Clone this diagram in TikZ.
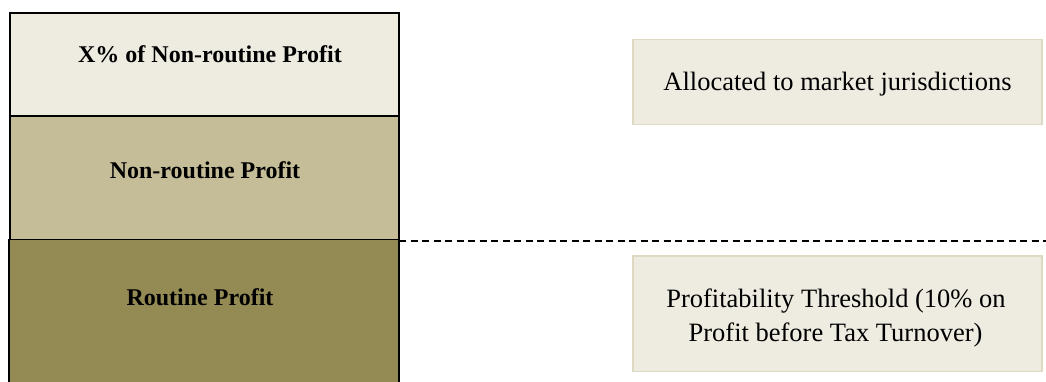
\documentclass[tikz,border=0pt]{standalone}
\usepackage{fontspec}
\setmainfont{Liberation Serif}
\definecolor{paletan}{HTML}{EEECE1}
\definecolor{midtan}{HTML}{C4BD97}
\definecolor{darktan}{HTML}{948A54}
\definecolor{tanedge}{HTML}{DDD9C3}
\begin{document}
\begin{tikzpicture}[x=1pt,y=-1pt,
  stackbox/.style={draw=black,line width=1.3pt},
  sidebox/.style={fill=paletan,draw=tanedge,line width=1.3pt},
  boldlabel/.style={font=\fontsize{24}{28}\selectfont\bfseries,inner sep=0pt,anchor=base},
  plainlabel/.style={font=\fontsize{26.5}{33}\selectfont,inner sep=0pt,anchor=base},
  guide/.style={dash pattern=on 7pt off 4.5pt,line width=1.6pt}]
\useasboundingbox (0,0) rectangle (1046,381);
% left stack
\filldraw[stackbox,fill=paletan] (10,13) rectangle (399,116);
\filldraw[stackbox,fill=midtan] (10,116) rectangle (399,239.5);
\fill[darktan] (9,239.5) rectangle (399,383);
\draw[line width=1.3pt] (9,383) -- (9,239.5) -- (399,239.5) -- (399,383);
\coordinate (nrse) at (399,240.7);
\coordinate (dashend) at (1046,240.7);
\node[boldlabel] (xpct) at (210,62.7) {X\% of Non-routine Profit};
\node[boldlabel] (nonroutine) at (205,178) {Non-routine Profit};
\node[boldlabel] (routine) at (200,305) {Routine Profit};
% dashed threshold line
\draw[guide] (nrse) -- (dashend);
% right boxes
\filldraw[sidebox] (633,39.5) rectangle (1042,124.5);
\filldraw[sidebox] (633,256) rectangle (1042,371.5);
\node[plainlabel] (alloc) at (837.5,90) {Allocated to market jurisdictions};
\node[plainlabel] (th1) at (836,307) {Profitability Threshold (10\% on};
\node[plainlabel] (th2) at (835.5,341.5) {Profit before Tax Turnover)};
\end{tikzpicture}
\end{document}
